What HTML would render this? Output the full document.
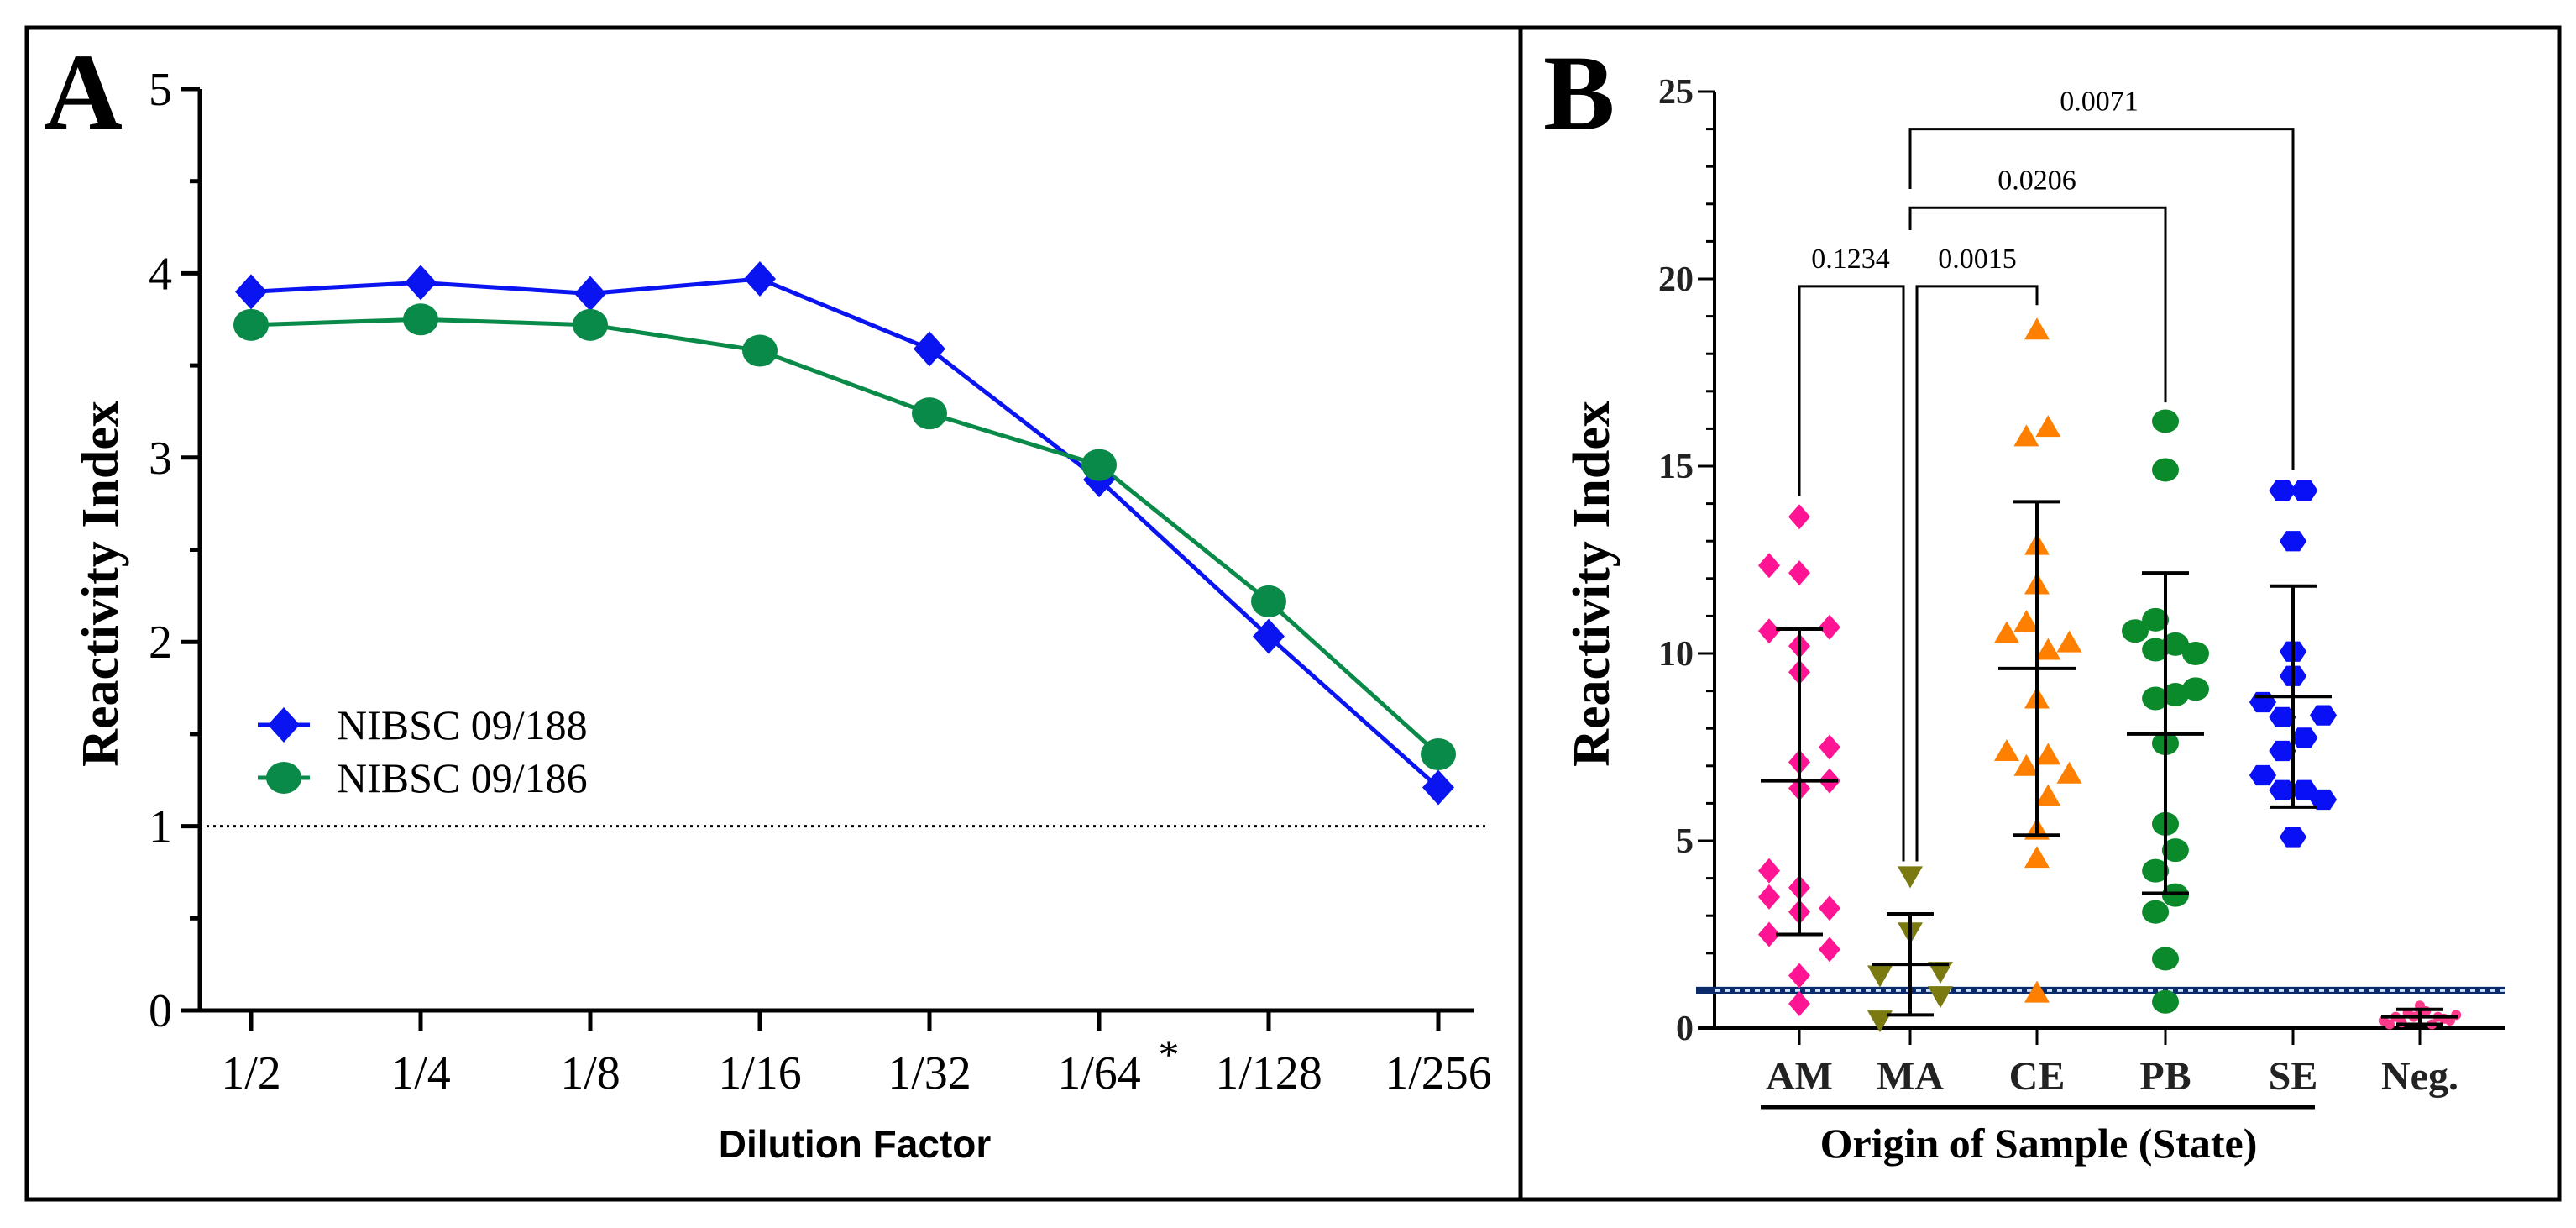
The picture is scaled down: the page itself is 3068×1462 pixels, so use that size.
<!DOCTYPE html>
<html><head><meta charset="utf-8"><style>
html,body{margin:0;padding:0;background:#fff}
svg{display:block}
</style></head><body>
<svg id="fig" xmlns="http://www.w3.org/2000/svg" width="3068" height="1462" viewBox="0 0 3068 1462">
<rect x="0" y="0" width="3068" height="1462" fill="#fff"/>
<rect x="32" y="33" width="3016" height="1395" fill="none" stroke="#000" stroke-width="5"/>
<line x1="1811" y1="33" x2="1811" y2="1428" stroke="#000" stroke-width="5"/>
<g id="A"></g>
<g id="B"></g>
</svg>
<script>
// ---------- Panel A data ----------
const dilutions = ["1/2","1/4","1/8","1/16","1/32","1/64","1/128","1/256"];
const nibsc188 = [3.90,3.95,3.89,3.97,3.59,2.88,2.03,1.21];
const nibsc186 = [3.72,3.75,3.72,3.58,3.24,2.96,2.22,1.39];
const aTicks = ["0","1","2","3","4","5"];

// ---------- Panel B data ----------
const states = ["AM","MA","CE","PB","SE","Neg."];
const amVals = [13.65,12.35,12.15,10.6,10.7,10.2,9.5,7.1,7.5,6.6,6.4,4.2,3.5,3.75,3.1,3.2,2.5,2.1,1.4,0.65];
const amJit  = [0,-1,0,-1,1,0,0,0,1,1,0,-1,-1,0,0,1,-1,1,0,0];
const maVals = [4.05,2.55,1.4,1.5,0.85,0.2];
const maJit  = [0,0,-1,1,1,-1];
const ceVals = [18.65,15.8,16.05,12.9,11.85,10.55,10.85,10.1,10.3,8.8,7.4,7.0,7.3,6.8,6.2,5.3,4.55,0.95];
const ceJit  = [0,-0.35,0.37,0,0,-1,-0.35,0.37,1.07,0,-1,-0.35,0.37,1.07,0.37,0,0,0];
const pbVals = [16.2,14.9,10.6,10.9,10.1,10.25,10.0,8.8,8.9,9.05,7.6,5.45,4.75,4.2,3.55,3.1,1.85,0.7];
const pbJit  = [0,0,-1,-0.33,-0.33,0.33,1,-0.33,0.33,1,0,0,0.33,-0.33,0.33,-0.33,0,0];
const seVals = [14.35,14.35,13.0,10.05,9.4,8.7,8.3,8.35,7.75,7.4,6.75,6.35,6.35,6.1,5.1];
const seJit  = [-0.35,0.37,0,0,0,-1,-0.35,1,0.37,-0.35,-1,-0.35,0.37,1,0];
const negVals = [0.2,0.3,0.4,0.5,0.1,0.6,0.25,0.35,0.15,0.45,0.3,0.2,0.1,0.3];
const negJit  = [-1.2,-0.8,-0.4,0,0.4,0,0.8,1.2,-0.6,0.2,0.6,1.0,-1.0,-0.2];
const means = [6.6,1.7,9.6,7.85,8.85,0.3];
const sdHigh = [10.65,3.05,14.05,12.15,11.8,0.5];
const sdLow = [2.5,0.35,5.15,3.6,5.9,0.1];
const bTicks = ["0","5","10","15","20","25"];
const pLabels = ["0.1234","0.0015","0.0206","0.0071"];

const NS="http://www.w3.org/2000/svg";
function mk(parent,tag,attrs,text){const e=document.createElementNS(NS,tag);for(const k in attrs)e.setAttribute(k,attrs[k]);if(text!==undefined)e.textContent=text;parent.appendChild(e);return e;}
const serif='"Liberation Serif", serif', sans='"Liberation Sans", sans-serif';

// ===== Panel A =====
const A=document.getElementById('A');
const ax0=238, axEnd=1755, ay0=1203, ayU=219.4;
const xA=i=>299+i*202;
const yA=v=>ay0-v*ayU;
let t=mk(A,'text',{x:52,y:153,'font-family':serif,'font-size':130,'font-weight':'bold'},'A');


let axl=mk(A,'path',{d:`M${ax0} ${yA(5)}H${ax0-20}M${ax0} ${yA(5)}V${ay0}M${ax0-22} ${ay0}H${axEnd}`,stroke:'#000','stroke-width':5,fill:'none'});


for(let k=0;k<=10;k++){const v=k/2;const len=(k%2==0)?22:12;
 const tk=mk(A,'line',{x1:ax0-len,x2:ax0,y1:yA(v),y2:yA(v),stroke:'#000','stroke-width':5});
 
 }
aTicks.forEach((s,i)=>{const e=mk(A,'text',{x:205,y:yA(+s)+19,'text-anchor':'end','font-family':serif,'font-size':56},s);
 
 });
dilutions.forEach((s,i)=>{
 const tk=mk(A,'line',{x1:xA(i),x2:xA(i),y1:ay0,y2:ay0+24,stroke:'#000','stroke-width':5});
 
 
 const e=mk(A,'text',{x:xA(i),y:1296,'text-anchor':'middle','font-family':serif,'font-size':56},s);
 
 });
t=mk(A,'text',{x:1392,y:1272,'text-anchor':'middle','font-family':serif,'font-size':50},'*');


t=mk(A,'text',{x:1018,y:1378,'text-anchor':'middle','font-family':sans,'font-size':46,'font-weight':'bold'},'Dilution Factor');


t=mk(A,'text',{x:0,y:0,transform:'translate(140,695) rotate(-90)','text-anchor':'middle','font-family':serif,'font-size':62,'font-weight':'bold'},'Reactivity Index');


t=mk(A,'line',{x1:ax0,x2:1770,y1:yA(1),y2:yA(1),stroke:'#000','stroke-width':3,'stroke-dasharray':'3 5'});


function diamond(g,x,y,w,h,c){return mk(g,'polygon',{points:`${x},${y-h} ${x+w},${y} ${x},${y+h} ${x-w},${y}`,fill:c});}
const blue='#0a14f0', green='#0a8a48';
let pl=mk(A,'polyline',{points:nibsc188.map((v,i)=>xA(i)+','+yA(v)).join(' '),fill:'none',stroke:blue,'stroke-width':5});


pl=mk(A,'polyline',{points:nibsc186.map((v,i)=>xA(i)+','+yA(v)).join(' '),fill:'none',stroke:green,'stroke-width':5});


nibsc188.forEach((v,i)=>{const d=diamond(A,xA(i),yA(v),19,21,blue);
 
 });
nibsc186.forEach((v,i)=>{const c=mk(A,'ellipse',{cx:xA(i),cy:yA(v),rx:21,ry:19,fill:green});
 
 });
// legend
let lg=mk(A,'g',{});


let le=mk(lg,'line',{x1:307,x2:369,y1:863,y2:863,stroke:blue,'stroke-width':5});


diamond(lg,338,863,19,21,blue);
le=mk(lg,'text',{x:401,y:880,'font-family':serif,'font-size':50},'NIBSC 09/188');


le=mk(lg,'line',{x1:307,x2:369,y1:926,y2:926,stroke:green,'stroke-width':5});


mk(lg,'ellipse',{cx:338,cy:926,rx:21,ry:19,fill:green});
le=mk(lg,'text',{x:401,y:943,'font-family':serif,'font-size':50},'NIBSC 09/186');



// ===== Panel B =====
const B=document.getElementById('B');
const bx0=2042, bxEnd=2984, by0=1224, byU=44.6;
const catX=[2143,2275,2426,2579,2731,2882];
const yB=v=>by0-v*byU;
const jw=36;
t=mk(B,'text',{x:1838,y:154,'font-family':serif,'font-size':128,'font-weight':'bold'},'B');


axl=mk(B,'path',{d:`M${bx0} ${yB(25)}V${by0}M${bx0-20} ${by0}H${bxEnd}`,stroke:'#000','stroke-width':4,fill:'none'});


for(let v=0;v<=25;v++){const len=(v%5==0)?20:10;
 const tk=mk(B,'line',{x1:bx0-len,x2:bx0,y1:yB(v),y2:yB(v),stroke:'#000','stroke-width':3});
 
 }
bTicks.forEach(s=>{const e=mk(B,'text',{x:2017,y:yB(+s)+14,'text-anchor':'end','font-family':serif,'font-size':42,'font-weight':'bold','fill':'#222'},s);
 
 });
states.forEach((s,i)=>{
 const tk=mk(B,'line',{x1:catX[i],x2:catX[i],y1:by0,y2:by0+20,stroke:'#000','stroke-width':3});
 
 
 const e=mk(B,'text',{x:catX[i],y:1297,'text-anchor':'middle','font-family':serif,'font-size':48,'font-weight':'bold','fill':'#222'},s);
 
 });
t=mk(B,'line',{x1:2097,x2:2757,y1:1318,y2:1318,stroke:'#000','stroke-width':5});


t=mk(B,'text',{x:2428,y:1378,'text-anchor':'middle','font-family':serif,'font-size':50,'font-weight':'bold'},'Origin of Sample (State)');


t=mk(B,'text',{x:0,y:0,transform:'translate(1916,695) rotate(-90)','text-anchor':'middle','font-family':serif,'font-size':62,'font-weight':'bold'},'Reactivity Index');


// threshold band
t=mk(B,'line',{x1:bx0-22,x2:bxEnd,y1:yB(1),y2:yB(1),stroke:'#0a2a6a','stroke-width':9});


mk(B,'line',{x1:bx0,x2:bxEnd,y1:yB(1),y2:yB(1),stroke:'#cfe3ff','stroke-width':3,'stroke-dasharray':'6 6'});
// brackets
function bracket(x1,x2,yTop,y1b,y2b,label,lx){
 const g=mk(B,'g',{});
 
 
 mk(g,'path',{d:`M${x1} ${yB(y1b)}V${yB(yTop)}H${x2}V${yB(y2b)}`,fill:'none',stroke:'#000','stroke-width':3});
 const e=mk(g,'text',{x:lx,y:yB(yTop)-22,'text-anchor':'middle','font-family':serif,'font-size':34},label);
 
 
}
bracket(catX[0],catX[1]-8,19.8,14.2,4.45,pLabels[0],2204);
bracket(catX[1]+8,catX[2],19.8,4.45,19.3,pLabels[1],2355);
bracket(catX[1],catX[3],21.9,21.3,16.7,pLabels[2],2426);
bracket(catX[1],catX[4],24.0,22.4,14.9,pLabels[3],2500);
// markers
function hex(g,x,y,c){const r=14;let p=[];for(let k=0;k<6;k++){const a=Math.PI/3*k;p.push((x+r*1.15*Math.cos(a))+','+(y+r*Math.sin(a)));}return mk(g,'polygon',{points:p.join(' '),fill:c});}
const groups=[
 {vals:amVals,jit:amJit,c:'#ff1493',shape:'diamond',name:'point-am'},
 {vals:maVals,jit:maJit,c:'#7a7a10',shape:'down',name:'point-ma'},
 {vals:ceVals,jit:ceJit,c:'#ff8000',shape:'up',name:'point-ce'},
 {vals:pbVals,jit:pbJit,c:'#0a8a2a',shape:'circle',name:'point-pb'},
 {vals:seVals,jit:seJit,c:'#0a10f5',shape:'hex',name:'point-se'},
 {vals:negVals,jit:negJit,c:'#ff3a8a',shape:'dot',name:'point-neg'}];
groups.forEach((gr,gi)=>{
 gr.vals.forEach((v,i)=>{
  const x=catX[gi]+gr.jit[i]*jw, y=yB(v); let e;
  if(gr.shape==='diamond') e=diamond(B,x,y,13,15,gr.c);
  else if(gr.shape==='down') e=mk(B,'polygon',{points:`${x-15},${y-12} ${x+15},${y-12} ${x},${y+14}`,fill:gr.c});
  else if(gr.shape==='up') e=mk(B,'polygon',{points:`${x-15},${y+12} ${x+15},${y+12} ${x},${y-14}`,fill:gr.c});
  else if(gr.shape==='circle') e=mk(B,'ellipse',{cx:x,cy:y,rx:16,ry:14,fill:gr.c});
  else if(gr.shape==='hex') e=hex(B,x,y,gr.c);
  else e=mk(B,'circle',{cx:x,cy:y,r:6,fill:gr.c});
  
  
 });
});
means.forEach((m,i)=>{
 const x=catX[i];
 const e=mk(B,'path',{d:`M${x-46} ${yB(m)}H${x+46}M${x} ${yB(sdLow[i])}V${yB(sdHigh[i])}M${x-28} ${yB(sdHigh[i])}H${x+28}M${x-28} ${yB(sdLow[i])}H${x+28}`,fill:'none',stroke:'#000','stroke-width':4});
 
 
});
</script>
</body></html>
